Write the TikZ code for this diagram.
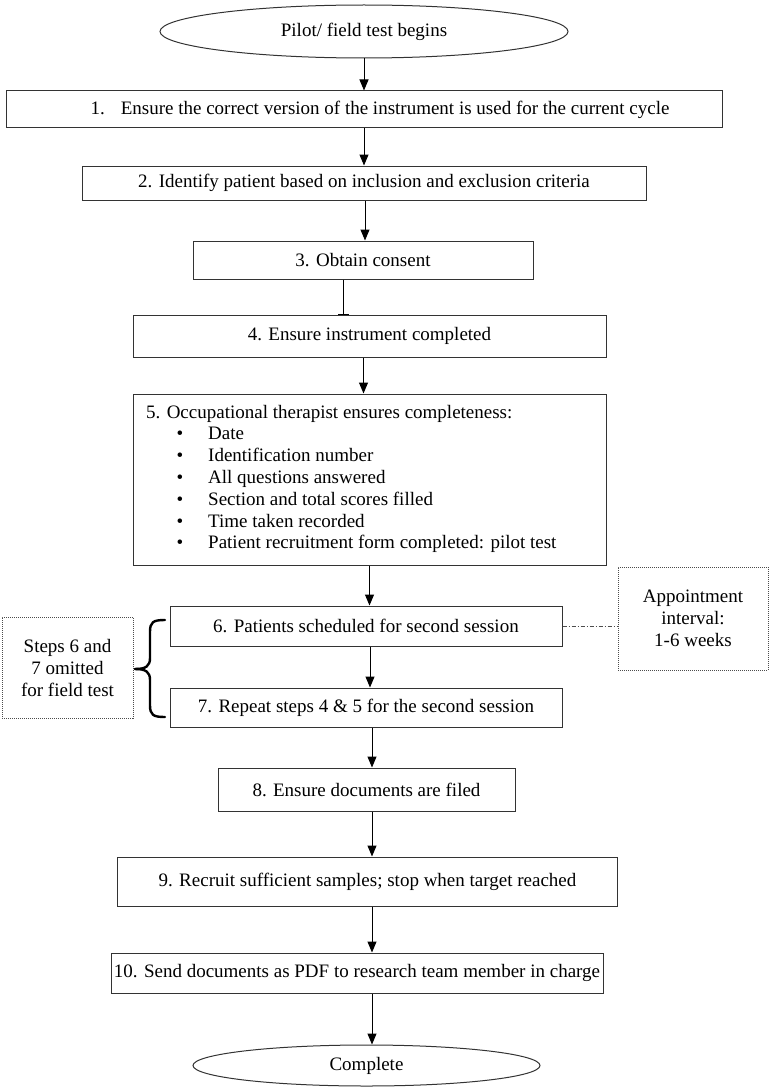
\documentclass[tikz,border=0pt]{standalone}
\usepackage{fontspec}
\setmainfont{Liberation Serif}
\usetikzlibrary{arrows.meta,shapes.geometric,calc}
\begin{document}
\begin{tikzpicture}[x=1pt,y=-1pt,
  every node/.style={font=\fontsize{19}{22}\selectfont},
  box/.style={draw=black!80, line width=1pt, rectangle, inner sep=0pt},
  oval/.style={draw=black!80, line width=1pt, ellipse, inner sep=0pt},
  note/.style={draw=black!70, line width=0.8pt, dash pattern=on 1pt off 1pt, rectangle, align=center, inner sep=0pt},
  arr/.style={line width=1pt, -{Triangle[width=9pt,length=11pt]}},
  bararr/.style={line width=1pt, -{Bar[width=11pt]}},
  dashdot/.style={draw=black!70, line width=0.8pt, dash pattern=on 4pt off 2pt on 1pt off 2pt},
  bracestyle/.style={line width=2.4pt, line cap=round, line join=round},
  line/.style={font=\fontsize{19}{22}\selectfont, inner sep=0pt},
]
\useasboundingbox (0,0) rectangle (775,1089);

\node[oval, minimum width=408pt, minimum height=53pt] (start) at (364,31.5) {Pilot/ field test begins};
\node[box, minimum width=716pt, minimum height=37pt] (b1) at (364,109.5)
  {\hspace*{32pt}1.\hspace{16pt}Ensure the correct version of the instrument is used for the current cycle};
\node[box, minimum width=564pt, minimum height=34pt] (b2) at (364,183)
  {2. Identify patient based on inclusion and exclusion criteria};
\node[box, minimum width=340pt, minimum height=38pt] (b3) at (363,260) {3. Obtain consent};
\node[box, minimum width=473pt, minimum height=42pt] (b4) at (369.5,336) {4. Ensure instrument completed};
\node[box, minimum width=473pt, minimum height=171pt] (b5) at (369.5,479.5) {};
\node[line, anchor=base west] (l0) at (146,418) {5. Occupational therapist ensures completeness:};
\foreach \t [count=\i] in {Date,Identification number,All questions answered,Section and total scores filled,Time taken recorded,Patient recruitment form completed: pilot test}{
  \node[line, anchor=base] (bu\i) at (180,{418+21.8*\i}) {•};
  \node[line, anchor=base west] (l\i) at (208,{418+21.8*\i}) {\t};
}
\node[box, minimum width=392pt, minimum height=40pt] (b6) at (366,626) {6. Patients scheduled for second session};
\node[box, minimum width=392pt, minimum height=39pt] (b7) at (366,707.5) {7. Repeat steps 4 \& 5 for the second session};
\node[box, minimum width=297pt, minimum height=43pt] (b8) at (366.5,789.5) {8. Ensure documents are filed};
\node[box, minimum width=500pt, minimum height=49pt] (b9) at (367.5,881.5) {9. Recruit sufficient samples; stop when target reached};
\node[box, minimum width=492pt, minimum height=40pt] (b10) at (357,973) {10. Send documents as PDF to research team member in charge};
\node[oval, minimum width=347pt, minimum height=41pt] (end) at (366.5,1065.5) {Complete};

\node[note, minimum width=131pt, minimum height=101pt] (lnote) at (67.5,667.5) {Steps 6 and\\7 omitted\\for field test};
\node[note, minimum width=150pt, minimum height=103pt] (rnote) at (693,618.5) {Appointment\\interval:\\1-6 weeks};

\draw[arr] (start.south) -- (b1.north);
\draw[arr] (b1.south) -- (b2.north);
\draw[arr] ([xshift=1pt]b2.south) -- ([xshift=1pt]b2.south |- b3.north);
\draw[bararr] ([xshift=-20pt]b3.south) -- ([xshift=-20pt]b3.south |- b4.north);
\draw[arr] ([xshift=-6pt]b4.south) -- ([xshift=-6pt]b4.south |- b5.north);
\draw[arr] (b5.south) -- (b5.south |- b6.north);
\draw[arr] ([xshift=4pt]b6.south) -- ([xshift=4pt]b6.south |- b7.north);
\draw[arr] ([xshift=6pt]b7.south) -- ([xshift=6pt]b7.south |- b8.north);
\draw[arr] ([xshift=5.5pt]b8.south) -- ([xshift=5.5pt]b8.south |- b9.north);
\draw[arr] ([xshift=4.5pt]b9.south) -- ([xshift=4.5pt]b9.south |- b10.north);
\draw[arr] ([xshift=15pt]b10.south) -- ([xshift=15pt]b10.south |- end.north);

\draw[dashdot] (b6.east) -- (b6.east -| rnote.west);

% brace
\draw[bracestyle] (165,620) .. controls (153,620) and (150,622) .. (150,632) -- (150,658)
  .. controls (150,666) and (146,669) .. (135,669);
\draw[bracestyle] (165,717) .. controls (153,717) and (150,715) .. (150,705) -- (150,680)
  .. controls (150,672) and (146,669) .. (135,669);
\end{tikzpicture}
\end{document}
